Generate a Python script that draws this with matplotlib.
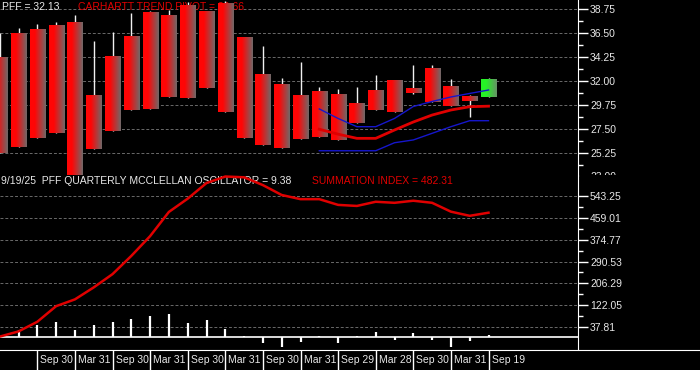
import numpy as np
import matplotlib.pyplot as plt
from matplotlib.transforms import Bbox, TransformedBbox, blended_transform_factory

plt.rcParams['font.family'] = ['Liberation Sans', 'DejaVu Sans']

# quarterly PFF candles, oldest first
opens = [34.17, 36.41, 36.79, 37.16, 37.44, 30.61, 34.35, 36.13, 38.38, 38.10,
         39.03, 38.56, 39.22, 36.04, 32.58, 31.73, 30.70, 31.08, 30.80, 29.86,
         31.08, 32.01, 31.27, 33.14, 31.55, 30.52, 30.52]
closes = [25.28, 25.84, 26.68, 27.15, 22.90, 25.65, 27.34, 29.30, 29.40, 30.52,
          30.42, 31.36, 29.11, 26.68, 26.03, 25.75, 26.59, 26.78, 26.50, 28.08,
          29.30, 29.11, 30.89, 30.05, 29.68, 30.14, 32.13]
highs = [36.48, 36.97, 37.35, 37.53, 38.19, 35.76, 36.60, 38.38, 38.56, 38.66,
         39.40, 38.60, 39.50, 36.10, 35.29, 32.30, 33.79, 31.45, 31.27, 31.45,
         32.58, 32.11, 33.51, 33.51, 32.20, 30.70, 32.30]
lows = [25.28, 25.84, 26.68, 27.15, 22.90, 25.65, 27.34, 29.30, 29.40, 30.52,
        30.42, 31.36, 29.11, 26.68, 26.03, 25.75, 26.59, 26.78, 26.50, 28.08,
        29.30, 29.11, 30.80, 30.05, 29.68, 28.65, 30.52]

# trend bands, last ten quarters
upper_band = [29.40, 28.51, 27.74, 27.74, 28.51, 29.63, 30.10, 30.52, 30.85, 31.17]
trend_pivot = [27.50, 27.04, 26.65, 26.65, 27.43, 28.18, 28.83, 29.30, 29.61, 29.66]
lower_band = [25.49, 25.49, 25.49, 25.49, 26.24, 26.50, 27.12, 27.74, 28.30, 28.30]

# McClellan summation index and oscillator histogram
summation = [2, 22, 59, 119, 145, 191, 242, 312, 388, 481, 532, 592, 617, 614,
             584, 546, 530, 530, 508, 504, 520, 516, 524, 516, 482, 466, 478]
oscillator = [26, 45, 60, 28, 45, 60, 70, 83, 90, 55, 66, 32, 3, -23, -36, -20,
              3, -23, 3, 19, -10, 17, -10, -38, -15, 9.38]

date_labels = ["Sep 30", "Mar 31", "Sep 30", "Mar 31", "Sep 30", "Mar 31", "Sep 30",
               "Mar 31", "Sep 29", "Mar 28", "Sep 30", "Mar 31", "Sep 19"]

price_ticks = [23.00, 25.25, 27.50, 29.75, 32.00, 34.25, 36.50, 38.75]
sum_ticks = [37.81, 122.05, 206.29, 290.53, 374.77, 459.01, 543.25]

W, H = 700, 370
STEP = 18.8  # pixels per quarter
x0 = 0.3 / STEP
TXT = '#e8e8e8'
RED = '#e00000'
BLUE = '#1616cc'


def box(l, t, r, b):
    return [l / W, 1 - b / H, (r - l) / W, (b - t) / H]


def fpos(x, y):
    return x / W, 1 - y / H


def body_gradient(c0, c1, n=24):
    # solid colour on the left third, then fade to grey
    f = np.clip((np.linspace(0, 1, n) - 0.3) / 0.7, 0, 1)[:, None]
    return ((1 - f) * np.array(c0) + f * np.array(c1))[None, :, :]


fig = plt.figure(figsize=(7, 3.7), dpi=100, facecolor='black')
ax1 = fig.add_axes(box(0, 0, 577.5, 175.5))
ax2 = fig.add_axes(box(0, 175.5, 577.5, 350))
ax3 = fig.add_axes(box(0, 350, 700, 370))

for ax in (ax1, ax2):
    ax.set_facecolor('black')
    for s in ('top', 'bottom', 'left'):
        ax.spines[s].set_visible(False)
    ax.spines['right'].set_color('white')
    ax.yaxis.tick_right()
    ax.tick_params(axis='y', which='major', colors='white', labelcolor=TXT,
                   length=7.2, width=1, pad=1.8, labelsize=7.5)
    ax.tick_params(axis='y', which='minor', colors='white', length=3.6, width=1)
    ax.set_xticks([])
    ax.set_axisbelow(True)
    ax.grid(axis='y', which='major', color='#6a6a6a', ls=(0, (3, 2)), lw=0.7)

# price panel
idx = np.arange(len(opens))
red_grad = body_gradient([1.0, 0.02, 0.02], [0.45, 0.40, 0.40])
green_grad = body_gradient([0.15, 0.95, 0.15], [0.40, 0.58, 0.40])
ax1.vlines(idx, lows, highs, color='#f0f0f0', lw=1, zorder=1.5)
for i in idx:
    lo, hi = sorted([opens[i], closes[i]])
    grad = green_grad if closes[i] > opens[i] else red_grad
    ax1.imshow(grad, extent=(i - 0.4, i + 0.4, lo, hi), aspect='auto',
               interpolation='bilinear', zorder=2)
bx = idx[-len(trend_pivot):]
ax1.plot(bx, upper_band, color=BLUE, lw=1, zorder=3)
ax1.plot(bx, lower_band, color=BLUE, lw=1, zorder=3)
ax1.plot(bx, trend_pivot, color=RED, lw=2, zorder=3)
ax1.set_yticks(price_ticks)
ax1.set_yticklabels([f"{v:.2f}" for v in price_ticks])
ax1.set_yticks([v + 1.125 for v in price_ticks], minor=True)
ax1.set_xlim(x0, (577.5 + 0.3) / STEP)
ax1.set_ylim(23.175, 39.59)
ax1.text(*fpos(2, 6.5), "PFF = 32.13", transform=fig.transFigure, color=TXT,
         fontsize=7.5, va='center', zorder=1)
ax1.text(*fpos(78, 6.5), "CARHARTT TREND PIVOT = 29.66", transform=fig.transFigure,
         color=RED, fontsize=7.5, va='center', zorder=1)

# half-hidden 23.00 label at the panel join
t = fig.text(590 / W, 23.00, "23.00", color=TXT, fontsize=7.5, va='center',
             transform=blended_transform_factory(fig.transFigure, ax1.transData))
t.set_clip_on(True)
t.set_clip_box(TransformedBbox(Bbox([[0, 1 - 175.5 / H], [1, 1]]), fig.transFigure))

# oscillator panel
ax2.axhline(0, color='white', lw=1.2, zorder=2)
ax2.vlines(idx[1:], 0, oscillator, color='white', lw=1.6, zorder=2)
ax2.plot(idx, summation, color=RED, lw=1.8, zorder=3)
ax2.set_yticks(sum_ticks)
ax2.set_yticklabels([f"{v:.2f}" for v in sum_ticks])
ax2.set_yticks([v + 42.12 for v in sum_ticks[:-1]], minor=True)
ax2.set_xlim(x0, (577.5 + 0.3) / STEP)
ax2.set_ylim(-49.4, 620.9)
ax2.text(*fpos(1.3, 181.5), "9/19/25  PFF QUARTERLY MCCLELLAN OSCILLATOR = 9.38",
         transform=fig.transFigure, color=TXT, fontsize=7.5, va='center', zorder=1)
ax2.text(*fpos(311.7, 181.5), "SUMMATION INDEX = 482.31", transform=fig.transFigure,
         color=RED, fontsize=7.5, va='center', zorder=1)

# date band
ax3.set_facecolor('black')
for s in ('bottom', 'left', 'right'):
    ax3.spines[s].set_visible(False)
ax3.spines['top'].set_color('white')
ax3.set_xticks([])
ax3.set_yticks([])
ax3.set_xlim(x0, (700 + 0.3) / STEP)
ax3.set_ylim(0, 1)
seps = idx[2::2]
ax3.vlines(seps, 0, 1, color='white', lw=1)
for s, lab in zip(seps, date_labels):
    ax3.text(s + 3 / STEP, 0.5, lab, color=TXT, fontsize=7.5, va='center')

fig.savefig("out.png", dpi=100, facecolor='black')
